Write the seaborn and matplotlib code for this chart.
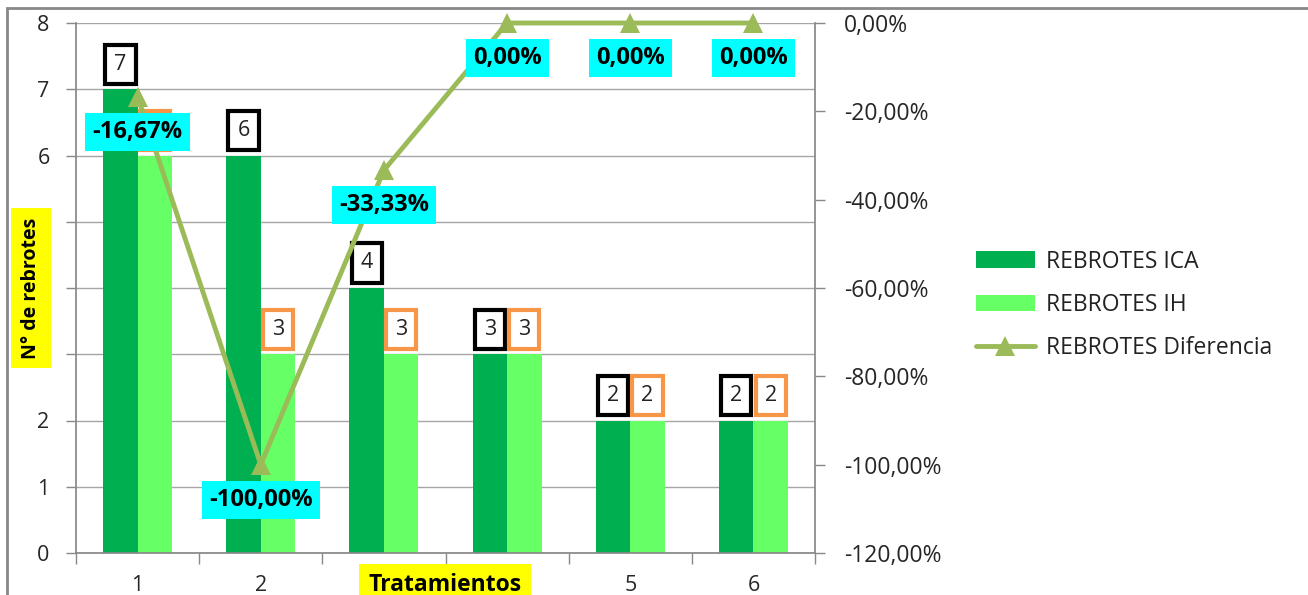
import numpy as np
import pandas as pd
import matplotlib.pyplot as plt
import seaborn as sns
from matplotlib.patches import Rectangle

tratamientos = ['1', '2', '3', '4', '5', '6']
rebrotes_ica = [7, 6, 4, 3, 2, 2]
rebrotes_ih = [6, 3, 3, 3, 2, 2]
diferencia = [-16.67, -100.0, -33.33, 0.0, 0.0, 0.0]
series = ['REBROTES ICA', 'REBROTES IH']
serie_linea = 'REBROTES Diferencia'

df = pd.DataFrame({
    'Tratamiento': tratamientos * 2,
    'Serie': [series[0]] * len(tratamientos) + [series[1]] * len(tratamientos),
    'Rebrotes': rebrotes_ica + rebrotes_ih,
})

sns.set_theme(style='white')
plt.rcParams['font.family'] = ['Open Sans', 'DejaVu Sans']
plt.rcParams['text.color'] = '#222222'

W, H = 1308, 595
fig = plt.figure(figsize=(W / 100, H / 100), dpi=100)
ax = fig.add_axes([76 / W, 42 / H, 739 / W, 530 / H])

sns.barplot(data=df, x='Tratamiento', y='Rebrotes', hue='Serie',
            palette=['#00B050', '#66FF66'], saturation=1, width=0.56,
            linewidth=0, ax=ax, zorder=2)

ax.set_ylim(0, 8)
ax.set_xlim(-0.5, len(tratamientos) - 0.5)
ax.set_yticks(range(9))
ax.yaxis.grid(True, color='#A6A6A6', lw=1)
ax.set_axisbelow(True)
ax.set_xlabel('')
ax.set_ylabel('')

ax.set_xticks(np.arange(len(tratamientos) + 1) - 0.5)
ax.set_xticklabels([])
ax.set_xticks(range(len(tratamientos)), minor=True)
ax.set_xticklabels(tratamientos, minor=True)
ax.tick_params(axis='x', which='major', length=8, width=1, color='#888888', direction='out', bottom=True)
ax.tick_params(axis='x', which='minor', length=0, pad=16, labelsize=15.5, bottom=True)
ax.tick_params(axis='y', length=7, width=1, color='#888888', direction='out', pad=12,
               labelsize=15.5, left=True)
for s in ['top', 'right']:
    ax.spines[s].set_visible(False)
for s in ['left', 'bottom']:
    ax.spines[s].set_color('#888888')

handles, labels = ax.get_legend_handles_labels()
if ax.get_legend():
    ax.get_legend().remove()

# etiquetas de las barras
for cont, edge in zip(ax.containers, ['black', '#F79646']):
    for bar in cont:
        h = bar.get_height()
        ax.annotate(f'{h:g}', (bar.get_x() + bar.get_width() / 2, h),
                    xytext=(0, 25), textcoords='offset pixels',
                    ha='center', va='center', fontsize=15.5,
                    bbox=dict(boxstyle='square,pad=0.42', fc='white', ec=edge, lw=3))

# diferencia en eje secundario
ax2 = ax.twinx()
sns.lineplot(x=list(range(len(tratamientos))), y=diferencia, color='#9BBB59',
             marker='^', markersize=14, markeredgewidth=0, linewidth=3.5,
             label=serie_linea, ax=ax2, clip_on=False)
ax2.set_ylim(-120, 0)
ax2.set_yticks(range(-120, 1, 20))
ax2.set_yticklabels([f'{v:.2f}%'.replace('.', ',') for v in range(-120, 1, 20)])
ax2.tick_params(axis='y', length=7, width=1, color='#888888', direction='out', pad=14,
                labelsize=16.5, right=True)
for s in ['top', 'left', 'bottom']:
    ax2.spines[s].set_visible(False)
ax2.spines['right'].set_color('#888888')
h2, l2 = ax2.get_legend_handles_labels()
if ax2.get_legend():
    ax2.get_legend().remove()

for x, v in zip(range(len(diferencia)), diferencia):
    ax2.annotate(f'{v:.2f}%'.replace('.', ','), (x, v), xytext=(0, -35),
                 textcoords='offset pixels', ha='center', va='center',
                 fontsize=17, fontweight='bold', color='black',
                 bbox=dict(boxstyle='square,pad=0.3', fc='#00FFFF', ec='none'))

fig.legend(handles + h2, labels + l2, loc='center left',
           bbox_to_anchor=(955 / W, 1 - 305 / H), frameon=False, fontsize=16.5,
           handlelength=2.6, labelspacing=0.85, handletextpad=0.45)

fig.text(31 / W, 1 - 288 / H, 'N° de rebrotes', rotation=90, ha='center', va='center',
         fontsize=14, fontweight='bold', color='black',
         bbox=dict(boxstyle='square,pad=0.5', fc='#FFFF00', ec='none'))
fig.text(445 / W, 1 - 585 / H, 'Tratamientos', ha='center', va='center',
         fontsize=16.5, fontweight='bold', color='black',
         bbox=dict(boxstyle='square,pad=0.4', fc='#FFFF00', ec='none'))

fig.add_artist(Rectangle((7 / W, -0.05), 1.0, 1 - 8 / H + 0.05, transform=fig.transFigure,
                         fill=False, ec='#888888', lw=2))

plt.savefig('out.png', dpi=100)
